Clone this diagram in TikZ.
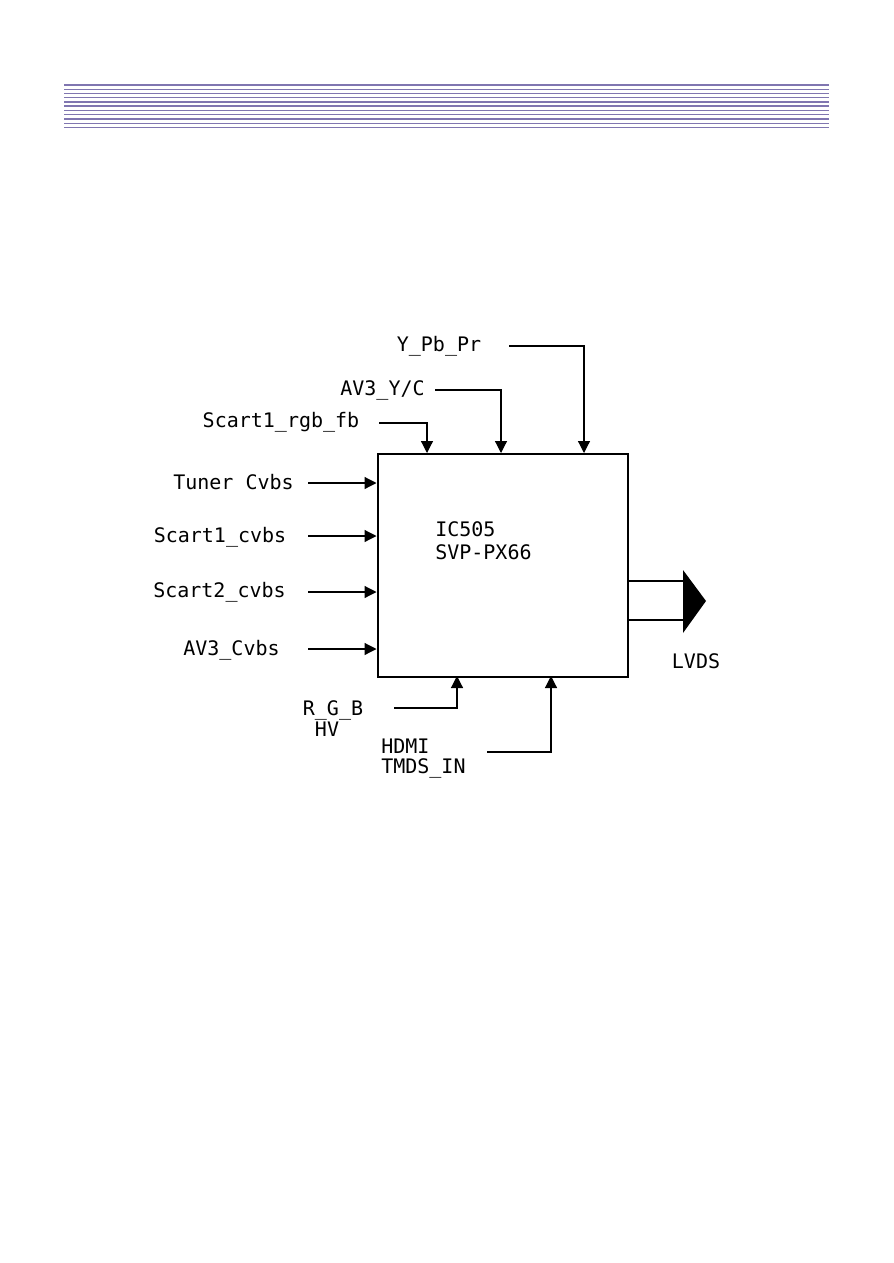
\documentclass[tikz,border=0pt]{standalone}
\usepackage{fontspec}
\usetikzlibrary{arrows.meta}
\newfontfamily\labfont{DejaVu Sans Mono}
\definecolor{rulec}{RGB}{128,118,176}
\tikzset{
  lab/.style={font=\labfont\fontsize{15}{18}\selectfont, inner sep=0pt, anchor=base},
  conn/.style={line width=0.9pt, -{Triangle[length=9pt,width=9pt]}},
  plain/.style={line width=0.9pt},
  hrule/.style={rulec, line width=0.9pt}
}
\begin{document}
\begin{tikzpicture}[x=0.75pt,y=-0.75pt]
\useasboundingbox (0,0) rectangle (893,1263);
% header rules
\draw[rulec, line width=1.6pt] (64,84.7) -- (829,84.7);
\foreach \yy in {89.3,93.3,97.7,102,106,110.3,114.3,119,123.3,127.3}
  \draw[hrule] (64,\yy) -- (829,\yy);
% main block
\node[draw, line width=1.5pt, minimum width=187.5pt, minimum height=167.25pt, inner sep=0pt, anchor=north west] (ic) at (376.5,453) {};
\node[lab, anchor=base west] (icname) at (435,536) {IC505};
\node[lab, anchor=base west] (icpart) at (435,559) {SVP-PX66};
% labels
\node[lab] (ypbpr) at (439,351) {Y\_Pb\_Pr};
\node[lab] (av3yc) at (382.5,395) {AV3\_Y/C};
\node[lab] (s1rgb) at (281,427) {Scart1\_rgb\_fb};
\node[lab] (tuner) at (233.5,489) {Tuner Cvbs};
\node[lab] (s1cvbs) at (220,542) {Scart1\_cvbs};
\node[lab] (s2cvbs) at (219.5,597) {Scart2\_cvbs};
\node[lab] (av3cvbs) at (231.5,655) {AV3\_Cvbs};
\node[lab] (rgb) at (333,715) {R\_G\_B};
\node[lab] (hv) at (327,736) {HV};
\node[lab, anchor=base west] (hdmi) at (381,753) {HDMI};
\node[lab, anchor=base west] (tmds) at (381,773) {TMDS\_IN};
\node[lab] (lvds) at (696,668) {LVDS};
% connector start points
\coordinate (cYp) at (509,346);
\coordinate (cAv) at (435,390);
\coordinate (cSr) at (379,423);
\coordinate (cTu) at (308,483);
\coordinate (cS1) at (308,536);
\coordinate (cS2) at (308,592);
\coordinate (cA3) at (308,649);
\coordinate (cRg) at (394,708);
\coordinate (cHd) at (487,752);
% connector end points on the block
\coordinate (eYp) at (584,453);
\coordinate (eAv) at (501,453);
\coordinate (eSr) at (427,453);
\coordinate (eRg) at (457,676);
\coordinate (eHd) at (551,676);
% connectors
\draw[conn] (cYp) -| (eYp);
\draw[conn] (cAv) -| (eAv);
\draw[conn] (cSr) -| (eSr);
\draw[conn] (cTu) -- (cTu -| ic.west);
\draw[conn] (cS1) -- (cS1 -| ic.west);
\draw[conn] (cS2) -- (cS2 -| ic.west);
\draw[conn] (cA3) -- (cA3 -| ic.west);
\draw[conn] (cRg) -| (eRg);
\draw[conn] (cHd) -| (eHd);
% LVDS output
\coordinate (o1) at (683,581);
\coordinate (o2) at (683,620);
\coordinate (tTop) at (683,570);
\coordinate (tTip) at (706,601);
\coordinate (tBot) at (683,633);
\draw[plain] (o1 -| ic.east) -- (o1);
\draw[plain] (o2 -| ic.east) -- (o2);
\fill[black] (tTop) -- (tTip) -- (tBot) -- cycle;
\end{tikzpicture}
\end{document}
